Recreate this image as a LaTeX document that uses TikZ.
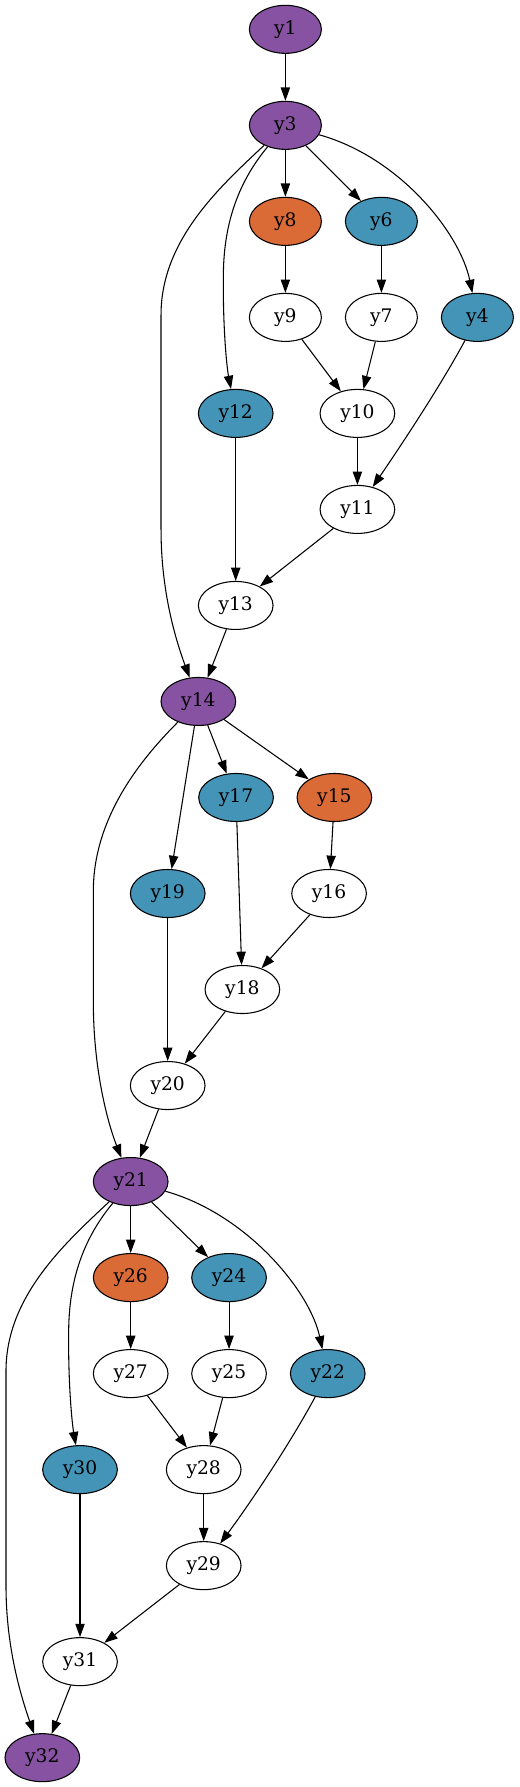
\documentclass[tikz,border=0pt]{standalone}
\usepackage{fontspec}
\setmainfont{DejaVu Serif}
\usetikzlibrary{shapes.geometric,arrows.meta}
\definecolor{cpurple}{RGB}{134,82,161}
\definecolor{corange}{RGB}{218,106,54}
\definecolor{cblue}{RGB}{68,148,184}
\begin{document}
\begin{tikzpicture}[x=1pt,y=-1pt,
  gnode/.style={ellipse,draw=black,line width=0.8pt,minimum width=54pt,minimum height=36pt,inner sep=0pt,font=\fontsize{14}{16}\selectfont},
  wide/.style={minimum width=56pt},
  purp/.style={fill=cpurple},
  oran/.style={fill=corange},
  blu/.style={fill=cblue},
  plain/.style={fill=white},
  arr/.style={-{Triangle[length=10pt,width=7pt]},line width=0.8pt,draw=black}]
\useasboundingbox (0,0) rectangle (389.2,1340);
% nodes
\node[gnode,purp] (y1) at (214,22) {y1};
\node[gnode,purp] (y3) at (214,94) {y3};
\node[gnode,oran] (y8) at (214,166) {y8};
\node[gnode,blu] (y6) at (286,166) {y6};
\node[gnode,plain] (y9) at (214,238) {y9};
\node[gnode,plain] (y7) at (286,238) {y7};
\node[gnode,blu] (y4) at (358,238) {y4};
\node[gnode,wide,blu] (y12) at (176.75,310) {y12};
\node[gnode,wide,plain] (y10) at (268,310) {y10};
\node[gnode,wide,plain] (y11) at (268,382) {y11};
\node[gnode,wide,plain] (y13) at (176.75,454) {y13};
\node[gnode,wide,purp] (y14) at (148.75,526) {y14};
\node[gnode,wide,blu] (y17) at (177,598) {y17};
\node[gnode,wide,oran] (y15) at (250.75,598) {y15};
\node[gnode,wide,blu] (y19) at (125.75,670) {y19};
\node[gnode,wide,plain] (y16) at (246.75,670) {y16};
\node[gnode,wide,plain] (y18) at (181.75,742) {y18};
\node[gnode,wide,plain] (y20) at (125.75,814) {y20};
\node[gnode,wide,purp] (y21) at (98,886) {y21};
\node[gnode,wide,oran] (y26) at (98,958) {y26};
\node[gnode,wide,blu] (y24) at (171.75,958) {y24};
\node[gnode,wide,plain] (y27) at (98,1030) {y27};
\node[gnode,wide,plain] (y25) at (171.75,1030) {y25};
\node[gnode,wide,blu] (y22) at (245.75,1030) {y22};
\node[gnode,wide,blu] (y30) at (60,1102) {y30};
\node[gnode,wide,plain] (y28) at (152.75,1102) {y28};
\node[gnode,wide,plain] (y29) at (152.75,1174) {y29};
\node[gnode,wide,plain] (y31) at (60,1246) {y31};
\node[gnode,wide,purp] (y32) at (31.75,1318) {y32};
% edges
\draw[arr] (y1) -- (y3);
\draw[arr] (y3) -- (y8);
\draw[arr] (y3) -- (y6);
\draw[arr] (y3) .. controls (300,118) and (345,175) .. (y4);
\draw[arr] (y3) .. controls (180,135) and (168,165) .. (167.5,205) .. controls (167,245) and (170,275) .. (y12);
\draw[arr] (y3) .. controls (165,140) and (120.75,180) .. (120.75,236) -- (120.75,397) .. controls (120.75,440) and (130,475) .. (y14);
\draw[arr] (y8) -- (y9);
\draw[arr] (y6) -- (y7);
\draw[arr] (y9) -- (y10);
\draw[arr] (y7) -- (y10);
\draw[arr] (y4) .. controls (330,290) and (300,335) .. (y11);
\draw[arr] (y10) -- (y11);
\draw[arr] (y12) -- (y13);
\draw[arr] (y11) -- (y13);
\draw[arr] (y13) -- (y14);
\draw[arr] (y14) -- (y17);
\draw[arr] (y14) -- (y15);
\draw[arr] (y14) -- (y19);
\draw[arr] (y14) .. controls (110,565) and (70,610) .. (70,668) -- (70,752) .. controls (70,800) and (80,840) .. (y21);
\draw[arr] (y15) -- (y16);
\draw[arr] (y17) -- (y18);
\draw[arr] (y16) -- (y18);
\draw[arr] (y19) -- (y20);
\draw[arr] (y18) -- (y20);
\draw[arr] (y20) -- (y21);
\draw[arr] (y21) -- (y26);
\draw[arr] (y21) -- (y24);
\draw[arr] (y21) .. controls (184,910) and (232,967) .. (y22);
\draw[arr] (y21) .. controls (64,927) and (52,957) .. (51.5,997) .. controls (51,1037) and (54,1067) .. (y30);
\draw[arr] (y21) .. controls (49,932) and (4.5,972) .. (4.5,1028) -- (4.5,1189) .. controls (4.5,1232) and (14,1267) .. (y32);
\draw[arr] (y26) -- (y27);
\draw[arr] (y24) -- (y25);
\draw[arr] (y27) -- (y28);
\draw[arr] (y25) -- (y28);
\draw[arr] (y22) .. controls (217.75,1082) and (187.75,1127) .. (y29);
\draw[arr] (y28) -- (y29);
\draw[arr] (y30) -- (y31);
\draw[arr] (y29) -- (y31);
\draw[arr] (y31) -- (y32);
\end{tikzpicture}
\end{document}
